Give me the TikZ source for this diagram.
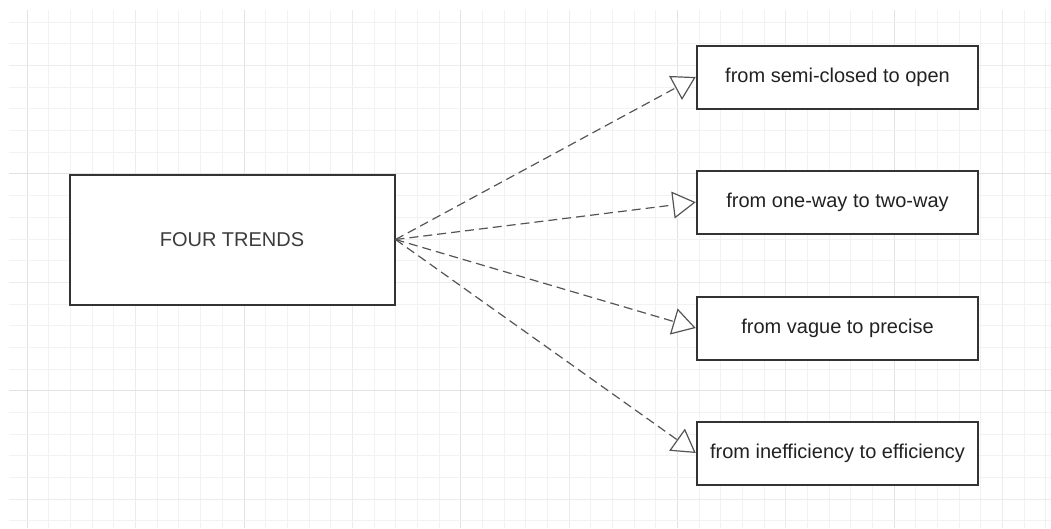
\documentclass[tikz,border=0pt]{standalone}
\usepackage{fontspec}
\setmainfont{Liberation Sans}
\usetikzlibrary{arrows.meta}
\definecolor{gridminor}{RGB}{242,242,242}
\definecolor{gridmid}{RGB}{236,236,236}
\definecolor{gridmajor}{RGB}{226,226,226}
\definecolor{boxline}{RGB}{51,51,51}
\definecolor{conn}{RGB}{85,85,85}
\definecolor{txt}{RGB}{34,34,34}
\tikzset{
  trendbox/.style={draw=boxline, line width=2pt, fill=white, inner sep=0pt,
    font=\fontsize{20}{24}\selectfont, text=txt},
  mainbox/.style={trendbox, minimum width=325pt, minimum height=130pt, text={rgb,255:red,60;green,60;blue,60}},
  sidebox/.style={trendbox, minimum width=281.5pt, minimum height=63pt},
  conn/.style={draw=conn, line width=1.2pt, dash pattern=on 9pt off 5pt,
    -{Triangle[open, length=23pt, width=27pt, fill=white, line width=1.2pt]}},
}
\begin{document}
\begin{tikzpicture}[x=1pt,y=-1pt]
\useasboundingbox (0,0) rectangle (1051,528);
\fill[white] (0,0) rectangle (1051,528);
% grid
\foreach \k in {0,...,47}{
  \pgfmathsetmacro{\xx}{27.3+\k*21.67}
  \pgfmathtruncatemacro{\mm}{mod(\k,10)}
  \pgfmathtruncatemacro{\mf}{mod(\k,5)}
  \ifnum\mm=0 \def\gc{gridmajor}\else\ifnum\mf=0 \def\gc{gridmid}\else\def\gc{gridminor}\fi\fi
  \draw[\gc, line width=1pt] (\xx,10) -- (\xx,528);
}
\foreach \k in {0,...,23}{
  \pgfmathsetmacro{\yy}{22.3+\k*21.67}
  \pgfmathtruncatemacro{\mm}{mod(\k+3,10)}
  \pgfmathtruncatemacro{\mf}{mod(\k+3,5)}
  \ifnum\mm=0 \def\gc{gridmajor}\else\ifnum\mf=0 \def\gc{gridmid}\else\def\gc{gridminor}\fi\fi
  \draw[\gc, line width=1pt] (9,\yy) -- (1051,\yy);
}
% nodes
\node[mainbox] (main) at (232,239.5) {FOUR TRENDS};
\node[sidebox] (t1) at (837.5,77) {from semi-closed to open};
\node[sidebox] (t2) at (837.5,202.2) {from one-way to two-way};
\node[sidebox] (t3) at (837.5,328) {from vague to precise};
\node[sidebox] (t4) at (837.5,453) {from inefficiency to efficiency};
% connectors
\foreach \t in {t1,t2,t3,t4}{
  \draw[conn] (main.east) -- (\t.west);
}
\end{tikzpicture}
\end{document}
